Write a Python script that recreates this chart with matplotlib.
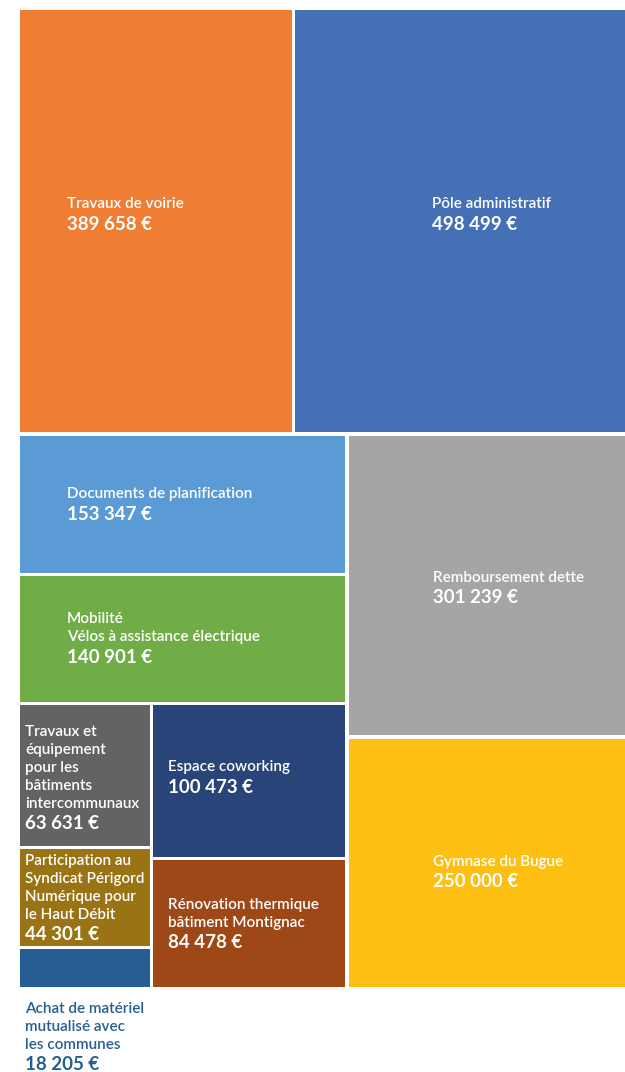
import matplotlib
matplotlib.use("Agg")
import matplotlib.pyplot as plt
from matplotlib.patches import Rectangle

# budget items (treemap)
names = [
    "Travaux de voirie",
    "Pôle administratif",
    "Documents de planification",
    "Mobilité\nVélos à assistance électrique",
    "Travaux et\néquipement\npour les\nbâtiments\nintercommunaux",
    "Participation au\nSyndicat Périgord\nNumérique pour\nle Haut Débit",
    "Achat de matériel\nmutualisé avec\nles communes",
    "Espace coworking",
    "Rénovation thermique\nbâtiment Montignac",
    "Remboursement dette",
    "Gymnase du Bugue",
]
values = [389658, 498499, 153347, 140901, 63631, 44301, 18205, 100473, 84478, 301239, 250000]
colors = ["#EF7D33", "#4670B5", "#5B9BD5", "#70AD47", "#636363", "#997314",
          "#275E92", "#284478", "#9E4818", "#A5A5A5", "#FCBF12"]

# nesting of the slice-and-dice layout: 'v' stacks top->bottom, 'h' goes left->right
tree = ("v", [
    ("h", [0, 1]),
    ("h", [
        ("v", [2, 3, ("h", [("v", [4, 5, 6]), ("v", [7, 8])])]),
        ("v", [9, 10]),
    ]),
])

# label offset from the tile's left edge (px) and vertical nudge
label_pad = [47, 137, 47, 47, 5, 5, 5, 15, 15, 84, 84]
label_dy = [-7, -7, 0, -1, 2, 0, 2, -4, 0, 2, 9]

GAP = 3.5


def total(node):
    if isinstance(node, int):
        return values[node]
    return sum(total(c) for c in node[1])


def layout(node, x0, y0, x1, y1, out):
    if isinstance(node, int):
        out[node] = (x0, y0, x1, y1)
        return
    direction, kids = node
    s = total(node)
    pos = x0 if direction == "h" else y0
    for k in kids:
        f = total(k) / s
        if direction == "h":
            w = f * (x1 - x0)
            layout(k, pos, y0, pos + w, y1, out)
        else:
            w = f * (y1 - y0)
            layout(k, x0, pos, x1, pos + w, out)
        pos += w


def fmt(v):
    return f"{v:,}".replace(",", " ") + " €"


plt.rcParams["font.family"] = ["Lato", "DejaVu Sans"]

fig = plt.figure(figsize=(6.25, 10.72), dpi=100)
ax = fig.add_axes([0, 0, 1, 1])
ax.set_xlim(0, 625)
ax.set_ylim(1072, 0)
ax.axis("off")

rects = {}
layout(tree, 20 - GAP / 2, 10 - GAP / 2, 646, 987 + GAP / 2, rects)

for i in range(len(values)):
    x0, y0, x1, y1 = rects[i]
    x0 += GAP / 2
    y0 += GAP / 2
    x1 -= GAP / 2
    y1 -= GAP / 2
    ax.add_patch(Rectangle((x0, y0), x1 - x0, y1 - y0, facecolor=colors[i],
                           edgecolor="none"))

    lines = names[i].split("\n")
    n = len(lines)
    span = 18 * (n - 1) + 20
    tx = x0 + label_pad[i]
    if i == 6:
        # tile too small, label sits below it
        first = y1 + 20 + label_dy[i]
        tcol = colors[i]
    else:
        first = (y0 + y1) / 2 - span / 2 + label_dy[i]
        tcol = "white"
    for j, ln in enumerate(lines):
        ax.text(tx, first + 18 * j, ln, color=tcol, fontsize=11,
                fontweight="semibold", ha="left", va="center")
    ax.text(tx, first + 18 * (n - 1) + 20, fmt(values[i]), color=tcol,
            fontsize=13.5, fontweight="bold", ha="left", va="center")

fig.savefig("out.png", dpi=100)
